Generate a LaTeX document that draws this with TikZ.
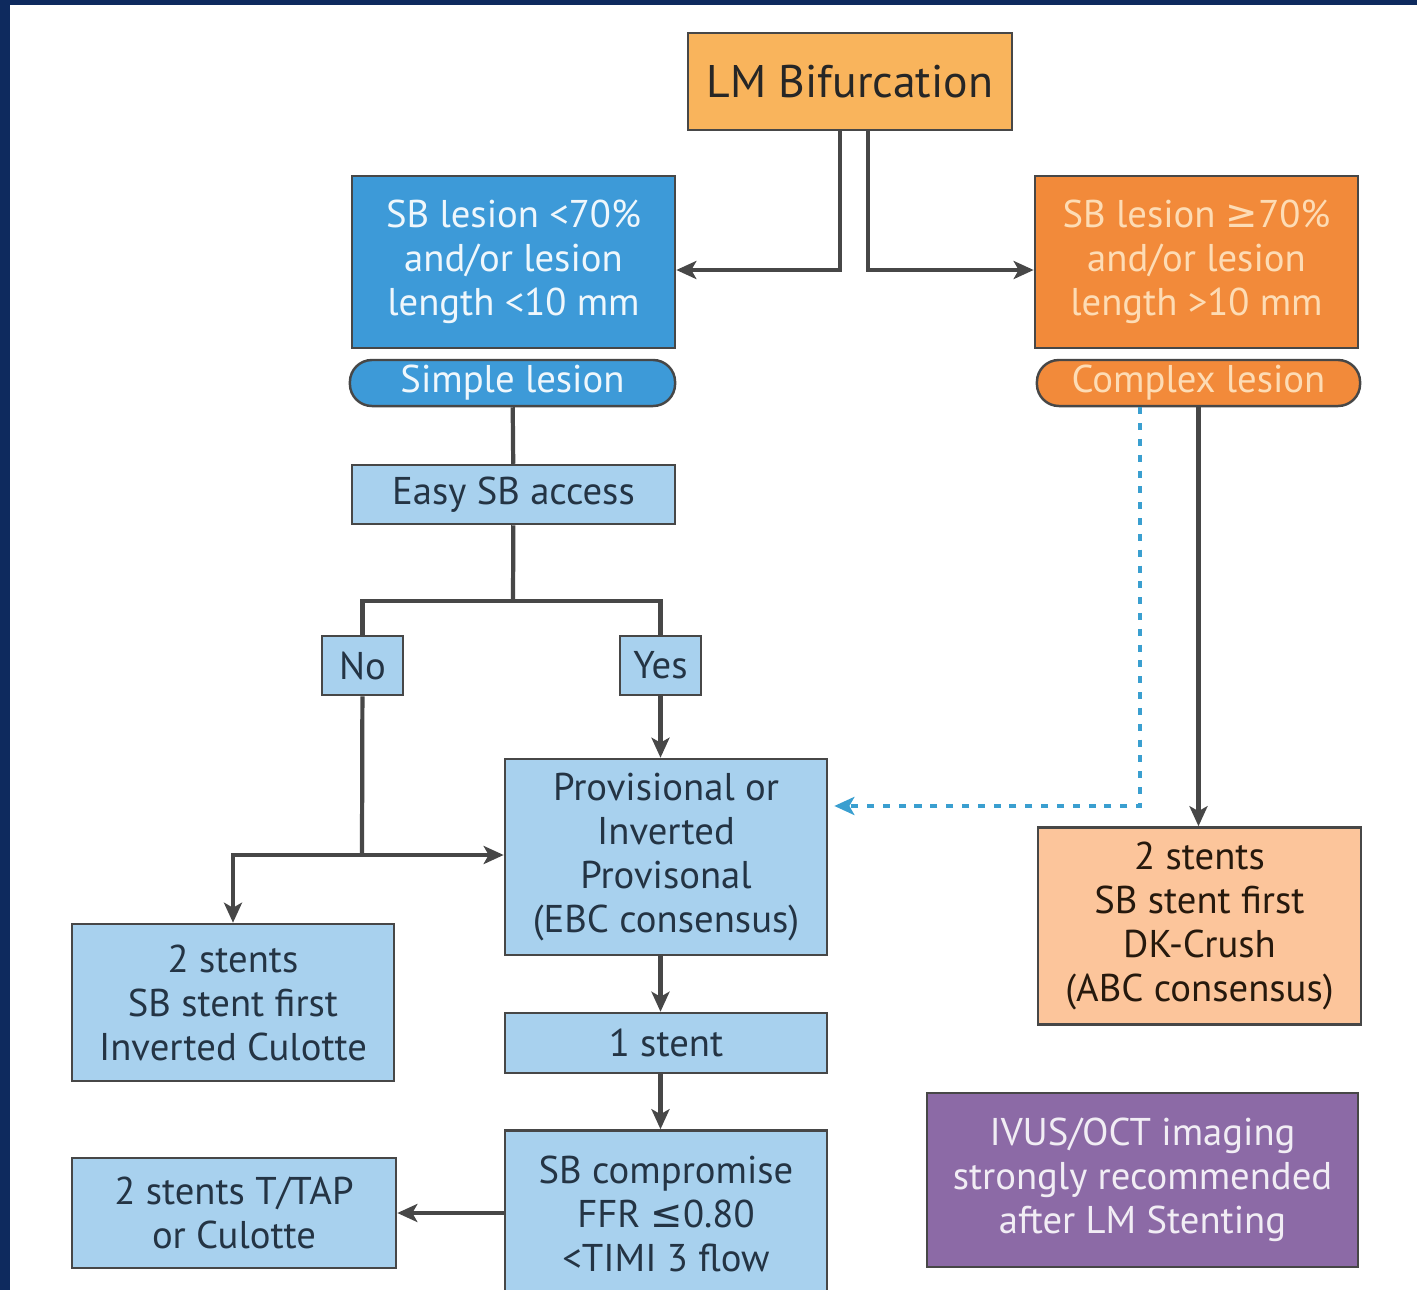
\documentclass[tikz,border=0pt]{standalone}
\usepackage{fontspec}
\setmainfont{PT Sans}
\newfontfamily\symfont{DejaVu Sans}
\usetikzlibrary{arrows.meta}
\definecolor{navyframe}{HTML}{0E2A5E}
\definecolor{linegray}{HTML}{474747}
\definecolor{lmorange}{HTML}{F9B45C}
\definecolor{simpleblue}{HTML}{3D9AD8}
\definecolor{paleblue}{HTML}{A8D1EE}
\definecolor{complexorange}{HTML}{F28A3A}
\definecolor{complextext}{HTML}{FDDCB5}
\definecolor{peach}{HTML}{FCC59B}
\definecolor{imgpurple}{HTML}{8C6AA6}
\definecolor{darktext}{HTML}{243444}
\definecolor{dotblue}{HTML}{3A9FD0}
\tikzset{
  box/.style={draw=linegray, line width=0.7pt, align=center, inner sep=0pt},
  simplebox/.style={box, fill=simpleblue, text=white!92!simpleblue},
  complexbox/.style={box, fill=complexorange, text=complextext},
  palebox/.style={box, fill=paleblue, text=darktext},
  conn/.style={draw=linegray, line width=1.2pt},
  arr/.style={conn, -{Stealth[length=2mm, width=1.8mm, inset=0.5mm]}},
  dotarr/.style={draw=dotblue, line width=1.2pt, dash pattern=on 2pt off 2.5pt,
    -{Stealth[length=2mm, width=1.8mm, inset=0.5mm]}}
}
\begin{document}
\begin{tikzpicture}[x=0.01cm, y=-0.01cm]\fontsize{11}{12.5}\selectfont
\clip (0,0) rectangle (1417,1290);
\fill[navyframe] (0,0) rectangle (1417,1290);
\fill[white] (10,5) rectangle (1417,1290);
  \node[box, fill=lmorange, text=black!85, minimum width=3.24cm, minimum height=0.97cm,
    font=\fontsize{13}{14}\selectfont] (lm) at (850,81.5) {LM Bifurcation};
  \node[simplebox, minimum width=3.23cm, minimum height=1.72cm] (sbsmall) at (513.5,262)
    {SB lesion <70\%\\and/or lesion\\length <10 mm};
  \node[simplebox, rounded corners=0.22cm, minimum width=3.25cm, minimum height=0.46cm] (simple)
    at (512.5,383) {Simple lesion};
  \node[complexbox, minimum width=3.23cm, minimum height=1.72cm] (sbbig) at (1196.5,262)
    {SB lesion {\symfont ≥}70\%\\and/or lesion\\length >10 mm};
  \node[complexbox, rounded corners=0.22cm, minimum width=3.23cm, minimum height=0.46cm] (complex)
    at (1198.5,383) {Complex lesion};
  \node[palebox, minimum width=3.23cm, minimum height=0.59cm] (easy) at (513.5,494.5) {Easy SB access};
  \node[palebox, minimum width=0.81cm, minimum height=0.59cm] (no) at (362.5,665.5) {No};
  \node[palebox, minimum width=0.81cm, minimum height=0.59cm] (yes) at (660.5,665.5) {Yes};
  \node[palebox, minimum width=3.22cm, minimum height=1.96cm] (prov) at (666,857)
    {Provisional or\\Inverted\\Provisonal\\(EBC consensus)};
  \node[palebox, minimum width=3.22cm, minimum height=0.60cm] (one) at (666,1043) {1 stent};
  \node[palebox, minimum width=3.22cm, minimum height=1.67cm] (comp) at (666,1214)
    {SB compromise\\FFR {\symfont ≤}0.80\\<TIMI 3 flow};
  \node[palebox, minimum width=3.22cm, minimum height=1.57cm] (culotte) at (233,1002.5)
    {2 stents\\SB stent first\\Inverted Culotte};
  \node[palebox, minimum width=3.24cm, minimum height=1.10cm] (tap) at (234,1213)
    {2 stents T/TAP\\or Culotte};
  \node[box, fill=peach, text=black!80!brown, minimum width=3.23cm, minimum height=1.97cm] (dk)
    at (1199.5,926) {2 stents\\SB stent first\\DK-Crush\\(ABC consensus)};
  \node[box, fill=imgpurple, text=white!88!imgpurple, minimum width=4.31cm, minimum height=1.74cm] (ivus)
    at (1142.5,1180) {IVUS/OCT imaging\\strongly recommended\\after LM Stenting};
\coordinate (split) at (513,601);
\coordinate (join) at (362,855);
\draw[arr] ([xshift=-0.1cm]lm.south) |- ([yshift=-0.08cm]sbsmall.east);
\draw[arr] ([xshift=0.18cm]lm.south) |- ([yshift=-0.08cm]sbbig.west);
\draw[conn] (simple) -- (easy);
\draw[conn] (easy) -- (split);
\draw[conn] (no.north) |- (split) -| (yes.north);
\draw[conn] (no) -- (join);
\draw[arr] (join) -- (prov.west |- join);
\draw[arr] (join) -| (culotte.north);
\draw[arr] (yes) -- (yes |- prov.north);
\draw[arr] (yes |- prov.south) -- (yes |- one.north);
\draw[arr] (yes |- one.south) -- (yes |- comp.north);
\draw[arr] (comp.west |- tap.east) -- (tap.east);
\draw[arr] (complex.south) -- (complex.south |- dk.north);
\draw[dotarr] ([xshift=-0.585cm]complex.south) |- ([xshift=0.06cm, yshift=0.51cm]prov.east);
\end{tikzpicture}
\end{document}
